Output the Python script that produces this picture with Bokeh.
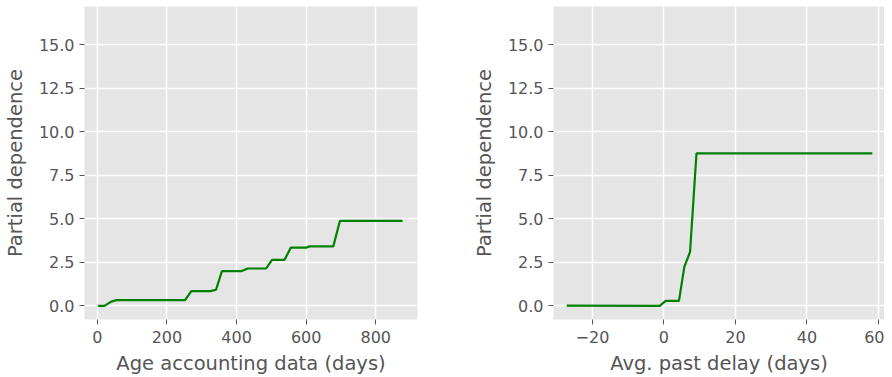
from bokeh.plotting import figure
from bokeh.layouts import row
from bokeh.models import Range1d, FixedTicker, NumeralTickFormatter
from bokeh.embed import file_html
from bokeh.resources import INLINE

# ---- data ----
age_days = [2, 20, 40, 55, 252, 270, 325, 341, 358, 415, 432, 485, 502, 538, 556, 600, 610, 678, 697, 877]
age_pd = [0.0, 0.0, 0.25, 0.33, 0.33, 0.85, 0.85, 0.93, 2.0, 2.0, 2.15, 2.15, 2.65, 2.65, 3.35, 3.35, 3.42, 3.42, 4.88, 4.88]

delay_days = [-27.2, -1.2, 0.5, 4.2, 5.7, 7.3, 9.1, 58.3]
delay_pd = [0.02, 0.0, 0.29, 0.29, 2.24, 3.1, 8.76, 8.76]

y_ticks = [0, 2.5, 5, 7.5, 10, 12.5, 15]
age_ticks = [0, 200, 400, 600, 800]
delay_ticks = [-20, 0, 20, 40, 60]

FONT = "DejaVu Sans"
TXT = "#555555"
BG = "#E5E5E5"


def make_panel(x, y, xticks, xrange, xlabel, fw, bl, br):
    p = figure(frame_width=fw, frame_height=313, output_backend="svg",
               toolbar_location=None, x_range=Range1d(*xrange),
               y_range=Range1d(-0.78, 17.2),
               min_border_left=bl, min_border_right=br,
               min_border_top=6, min_border_bottom=52)
    p.background_fill_color = BG
    p.border_fill_color = "white"
    p.outline_line_color = None
    p.grid.grid_line_color = "white"
    p.grid.grid_line_width = 1.5
    p.line(x, y, line_color="#008000", line_width=2.2)
    for ax in (p.xaxis[0], p.yaxis[0]):
        ax.axis_line_color = None
        ax.major_tick_line_color = TXT
        ax.major_tick_out = 5
        ax.major_tick_in = 0
        ax.minor_tick_line_color = None
        ax.major_label_text_font = FONT
        ax.major_label_text_font_size = "16px"
        ax.major_label_text_color = TXT
        ax.axis_label_text_font = FONT
        ax.axis_label_text_font_size = "19.5px"
        ax.axis_label_text_font_style = "normal"
        ax.axis_label_text_color = TXT
    p.xaxis.ticker = FixedTicker(ticks=xticks)
    p.yaxis.ticker = FixedTicker(ticks=y_ticks)
    p.yaxis.formatter = NumeralTickFormatter(format="0.0")
    p.xaxis.major_label_overrides = {t: ("\u2212" + str(abs(t))) for t in xticks if t < 0}
    p.xaxis.axis_label = xlabel
    p.yaxis.axis_label = "Partial dependence"
    p.xaxis.major_label_standoff = 6
    p.yaxis.major_label_standoff = 5
    p.xaxis.axis_label_standoff = 6
    p.yaxis.axis_label_standoff = 9
    p.xgrid.ticker = FixedTicker(ticks=xticks)
    p.ygrid.ticker = FixedTicker(ticks=y_ticks)
    return p


p1 = make_panel(age_days, age_pd, age_ticks, (-37, 920), "Age accounting data (days)", 333, 76, 48)
p2 = make_panel(delay_days, delay_pd, delay_ticks, (-30.9, 61.7), "Avg. past delay (days)", 331, 88, 0)

layout = row(p1, p2)

open("out.html", "w").write(file_html(layout, INLINE))
